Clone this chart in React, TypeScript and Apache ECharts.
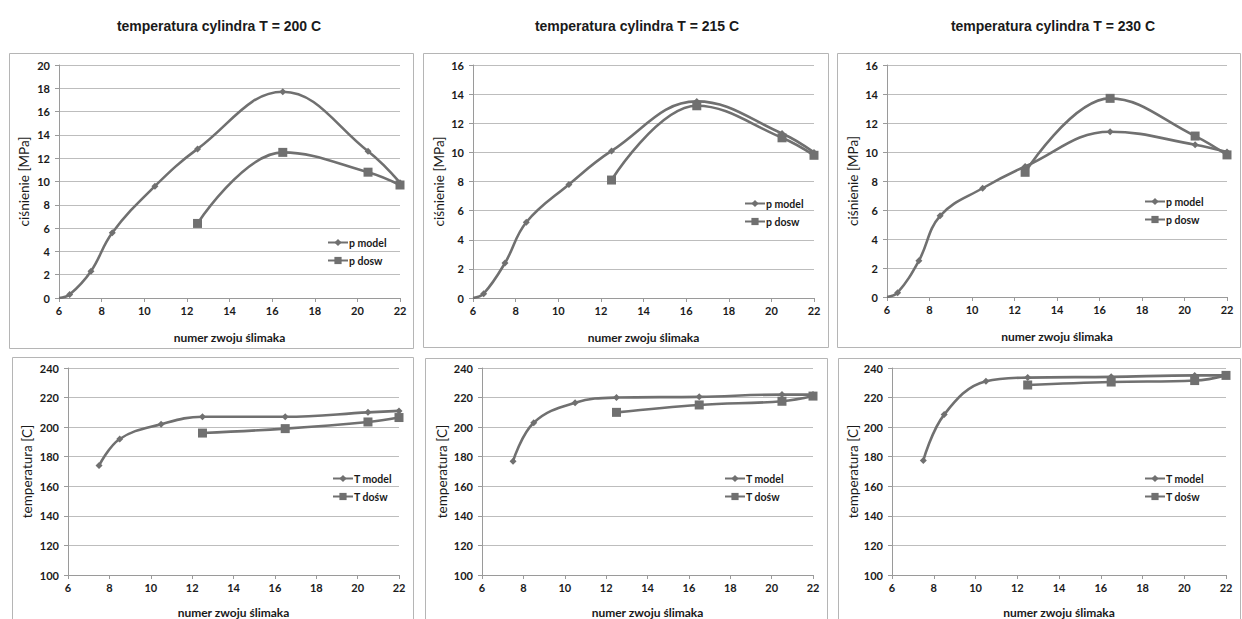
import React, { useEffect, useRef } from "react";
import * as echarts from "echarts";

// ---- data ----
const titles = ["temperatura cylindra T = 200 C", "temperatura cylindra T = 215 C", "temperatura cylindra T = 230 C"];
const pModelX = [6, 6.5, 7.5, 8.5, 10.5, 12.5, 16.5, 20.5, 22];
const pDoswX = [12.5, 16.5, 20.5, 22];
const tModelX = [7.5, 8.5, 10.5, 12.5, 16.5, 20.5, 22];
const tDoswX = [12.5, 16.5, 20.5, 22];

const pModel200 = [0, 0.3, 2.3, 5.6, 9.6, 12.8, 17.7, 12.6, 9.9];
const pDosw200 = [6.4, 12.5, 10.8, 9.7];
const pModel215 = [0, 0.3, 2.4, 5.2, 7.8, 10.1, 13.5, 11.3, 10.0];
const pDosw215 = [8.1, 13.2, 11.0, 9.8];
const pModel230 = [0, 0.3, 2.5, 5.6, 7.5, 9.0, 11.4, 10.5, 10.0];
const pDosw230 = [8.6, 13.7, 11.1, 9.8];

const tModel200 = [174, 192, 202, 207, 207, 210, 211];
const tDosw200 = [196, 199, 203.5, 206.5];
const tModel215 = [177, 203, 216.5, 220, 220.5, 222, 222];
const tDosw215 = [210, 215, 217.5, 221];
const tModel230 = [177.5, 208.5, 231, 233.5, 234, 235, 235];
const tDosw230 = [228.5, 230.5, 231.5, 235];

const pMax = [20, 16, 16];
const xName = "numer zwoju ślimaka";
const pName = "ciśnienie [MPa]";
const tName = "temperatura [C]";
const pLegend = ["p model", "p dosw"];
const tLegend = ["T model", "T dośw"];

// ---- layout ----
const gridsTop = [
  { left: 59, top: 65, width: 341, height: 233, yGap: 28, leg: [322, 232] },
  { left: 473, top: 65, width: 341, height: 233, yGap: 27, leg: [739, 193] },
  { left: 887, top: 65, width: 340, height: 232, yGap: 27, leg: [1139, 191] },
];
const gridsBot = [
  { left: 68, top: 368, width: 331, height: 207, yGap: 34, leg: [327, 468] },
  { left: 482, top: 368, width: 331, height: 207, yGap: 33, leg: [719, 468] },
  { left: 892, top: 368, width: 334, height: 207, yGap: 30, leg: [1139, 468] },
];
const titleCenters = [214, 632, 1048];
const boxes = [
  [9, 53, 404, 295],
  [423, 53, 405, 294],
  [837, 53, 403, 294],
  [12, 357, 401, 275],
  [425, 358, 402, 275],
  [838, 358, 402, 275],
];

const LINE = "#707070";
const FONT = "Lato";

function pairs(xs: number[], ys: number[], hideFirst = false) {
  return xs.map((x, i) =>
    hideFirst && i === 0 ? { value: [x, ys[i]], symbolSize: 0 } : { value: [x, ys[i]] }
  );
}

export default function App() {
  const ref = useRef<HTMLDivElement>(null);
  useEffect(() => {
    if (!ref.current) return;
    const chart = echarts.init(ref.current, null, { renderer: "svg" });
    const grids: any[] = [];
    const xAxes: any[] = [];
    const yAxes: any[] = [];
    const series: any[] = [];
    const legends: any[] = [];
    const pModels = [pModel200, pModel215, pModel230];
    const pDosws = [pDosw200, pDosw215, pDosw230];
    const tModels = [tModel200, tModel215, tModel230];
    const tDosws = [tDosw200, tDosw215, tDosw230];

    const axisCommon = {
      axisLine: { show: true, lineStyle: { color: "#9a9a9a", width: 1 } },
      axisTick: { show: true, length: 4, lineStyle: { color: "#9a9a9a" } },
      axisLabel: { color: "#1a1a1a", fontFamily: FONT, fontWeight: "bold", fontSize: 11 },
    };

    const addPanel = (g: any, idx: number, yMin: number, yMax: number, yInt: number, yTitle: string,
      modelX: number[], model: number[], doswX: number[], dosw: number[], legNames: string[], hideFirst: boolean, xGap: number) => {
      grids.push({ left: g.left, top: g.top, width: g.width, height: g.height });
      xAxes.push({
        type: "value", gridIndex: idx, min: 6, max: 22, interval: 2,
        ...axisCommon,
        axisLabel: { ...axisCommon.axisLabel, margin: 7 },
        splitLine: { show: false },
        name: xName, nameLocation: "middle", nameGap: xGap,
        nameTextStyle: { color: "#1a1a1a", fontFamily: FONT, fontWeight: "bold", fontSize: 12 },
      });
      yAxes.push({
        type: "value", gridIndex: idx, min: yMin, max: yMax, interval: yInt,
        ...axisCommon,
        axisLabel: { ...axisCommon.axisLabel, margin: 9 },
        splitLine: { show: true, lineStyle: { color: "#bdbdbd", width: 1 } },
        name: yTitle, nameLocation: "middle", nameGap: g.yGap,
        nameTextStyle: { color: "#1a1a1a", fontFamily: FONT, fontSize: 13.5 },
      });
      series.push({
        type: "line", name: legNames[0], xAxisIndex: idx, yAxisIndex: idx,
        data: pairs(modelX, model, hideFirst), smooth: 0.4,
        symbol: "diamond", symbolSize: 7,
        lineStyle: { color: LINE, width: 2.6 }, itemStyle: { color: LINE },
      });
      series.push({
        type: "line", name: legNames[1], xAxisIndex: idx, yAxisIndex: idx,
        data: pairs(doswX, dosw), smooth: 0.4,
        symbol: "rect", symbolSize: 9,
        lineStyle: { color: LINE, width: 2.6 }, itemStyle: { color: LINE },
      });
      legends.push({
        orient: "vertical", left: g.leg[0], top: g.leg[1], itemGap: 7,
        itemWidth: 20, itemHeight: 9, data: legNames, selectedMode: false,
        textStyle: { color: "#1a1a1a", fontFamily: FONT, fontWeight: "bold", fontSize: 10.5, padding: [0, 0, 0, -4] },
      });
    };

    for (let i = 0; i < 3; i++) {
      addPanel(gridsTop[i], i, 0, pMax[i], 2, pName, pModelX, pModels[i], pDoswX, pDosws[i], pLegend, true, 33);
    }
    for (let i = 0; i < 3; i++) {
      addPanel(gridsBot[i], i + 3, 100, 240, 20, tName, tModelX, tModels[i], tDoswX, tDosws[i], tLegend, false, 31);
    }

    const option: any = {
      animation: false,
      backgroundColor: "#fff",
      title: titles.map((t, i) => ({
        text: t, left: titleCenters[i], top: 14, textAlign: "center",
        textStyle: { fontFamily: "Liberation Sans", fontWeight: "bold", fontSize: 14, color: "#1a1a1a" },
      })),
      graphic: boxes.map((b) => ({
        type: "rect", shape: { x: b[0] + 0.5, y: b[1] + 0.5, width: b[2], height: b[3] },
        style: { fill: "none", stroke: "#b5b5b5", lineWidth: 1 }, silent: true, z: -1,
      })),
      legend: legends,
      grid: grids,
      xAxis: xAxes,
      yAxis: yAxes,
      series,
    };
    chart.setOption(option);
    return () => chart.dispose();
  }, []);
  return (
    <div
      ref={ref}
      style={{ position: "absolute", left: 0, top: 0, width: 1242, height: 619, background: "#fff" }}
    />
  );
}
